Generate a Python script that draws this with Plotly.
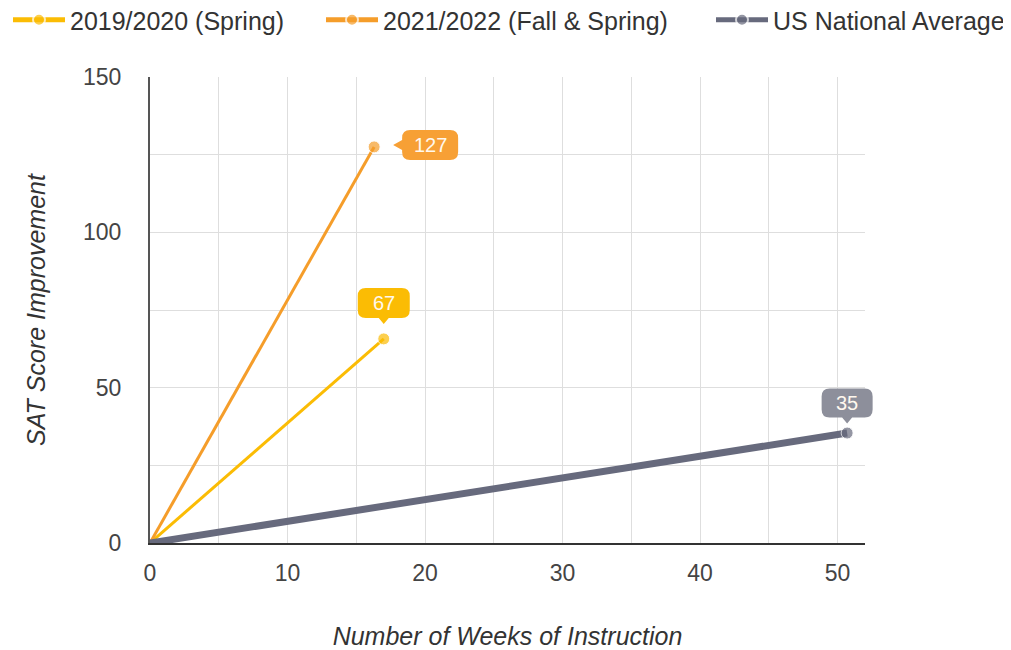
import plotly.graph_objects as go

series_names = ["2019/2020 (Spring)", "2021/2022 (Fall & Spring)", "US National Average"]
weeks_2019 = [0, 17]
score_2019 = [0, 65.7]
weeks_2021 = [0, 16.3]
score_2021 = [0, 127.5]
weeks_us = [0, 50.7]
score_us = [0, 35.4]
end_labels = ["67", "127", "35"]

x_range = [0, 52]
y_range = [0, 150]
x_ticks = [0, 10, 20, 30, 40, 50]
y_ticks = [0, 50, 100, 150]

line_colors = ["#fbbc04", "#f59d2a", "#676a7d"]
box_colors = ["#fbbc04", "#f7a035", "#8d8f9b"]
widths = [3, 3, 7]
FONT = "Liberation Sans, Arial, sans-serif"

fig = go.Figure()
xs = [weeks_2019, weeks_2021, weeks_us]
ys = [score_2019, score_2021, score_us]
legend_ids = ["legend", "legend2", "legend3"]
for name, x, y, c, w, lg in zip(series_names, xs, ys, line_colors, widths, legend_ids):
    fig.add_trace(go.Scatter(x=x, y=y, name=name, mode="lines+markers",
                             line=dict(color=c, width=w),
                             marker=dict(color=c, size=[0, 12]),
                             legend=lg))


def rounded_box(cx, cy, w, h, r, pointer):
    """Pixel path (y up) for a rounded box centred at (cx, cy) with a small pointer."""
    l, rt, b, t = cx - w / 2, cx + w / 2, cy - h / 2, cy + h / 2
    p = f"M{l + r},{b} "
    if pointer == "down":
        p += f"L{cx - 5},{b} L{cx},{b - 6} L{cx + 5},{b} "
    p += f"L{rt - r},{b} Q{rt},{b} {rt},{b + r} L{rt},{t - r} Q{rt},{t} {rt - r},{t} "
    p += f"L{l + r},{t} Q{l},{t} {l},{t - r} "
    if pointer == "left":
        p += f"L{l},{cy + 5} L{l - 9},{cy} L{l},{cy - 5} "
    p += f"L{l},{b + r} Q{l},{b} {l + r},{b} Z"
    return p


def to_paper(v, rng):
    return (v - rng[0]) / (rng[1] - rng[0])


# callout geometry: (centre dx, centre dy [px, up], width, height, pointer side)
callouts = [(0, 36, 52, 30, "down"), (56, 2, 56, 30, "left"), (0, 30, 51, 29, "down")]
for x, y, lab, c, (dx, dy, w, h, side) in zip(xs, ys, end_labels, box_colors, callouts):
    # paper-referenced (anchored at the data point) so the box is not clipped by the plot area
    fig.add_shape(type="path", xref="paper", yref="paper",
                  xsizemode="pixel", ysizemode="pixel",
                  xanchor=to_paper(x[-1], x_range), yanchor=to_paper(y[-1], y_range),
                  path=rounded_box(dx, dy, w, h, 8, side),
                  fillcolor=c, line=dict(width=0), layer="above")
    fig.add_annotation(x=x[-1], y=y[-1], text=lab, showarrow=False,
                       xshift=dx, yshift=dy,
                       font=dict(color="#fff8ee", size=20, family=FONT))

legend_common = dict(orientation="h", yref="container", y=1 - 12 / 650, yanchor="middle",
                     xref="container", xanchor="left",
                     font=dict(size=25, color="#333333", family=FONT),
                     itemwidth=52, itemsizing="constant", bgcolor="rgba(0,0,0,0)")

fig.update_layout(
    width=1011, height=650,
    margin=dict(l=142, r=154, t=69, b=115, autoexpand=False),
    plot_bgcolor="white", paper_bgcolor="white",
    font=dict(family=FONT, size=24, color="#444444"),
    legend=dict(x=-2 / 1011, **legend_common),
    legend2=dict(x=313 / 1011, **legend_common),
    legend3=dict(x=703 / 1011, **legend_common),
    showlegend=True,
)
fig.update_xaxes(range=x_range, tickvals=x_ticks, automargin=False,
                 showgrid=True, gridcolor="#dedede", gridwidth=1,
                 minor=dict(dtick=5, showgrid=True, gridcolor="#dedede"),
                 showline=True, linecolor="#333333", linewidth=2,
                 zeroline=False, ticks="", ticklabelstandoff=8,
                 tickfont=dict(size=23, color="#444444"),
                 title=dict(text="<i>Number of Weeks of Instruction</i>", standoff=43,
                            font=dict(size=25, color="#333333")))
fig.update_yaxes(range=y_range, tickvals=y_ticks, automargin=False,
                 showgrid=True, gridcolor="#dedede", gridwidth=1,
                 minor=dict(dtick=25, showgrid=True, gridcolor="#dedede"),
                 showline=True, linecolor="#555555", linewidth=2,
                 zeroline=False, ticks="", ticklabelstandoff=22,
                 tickfont=dict(size=23, color="#444444"),
                 title=dict(text="<i>SAT Score Improvement</i>", standoff=30,
                            font=dict(size=25, color="#333333")))

fig.write_html("out.html")
